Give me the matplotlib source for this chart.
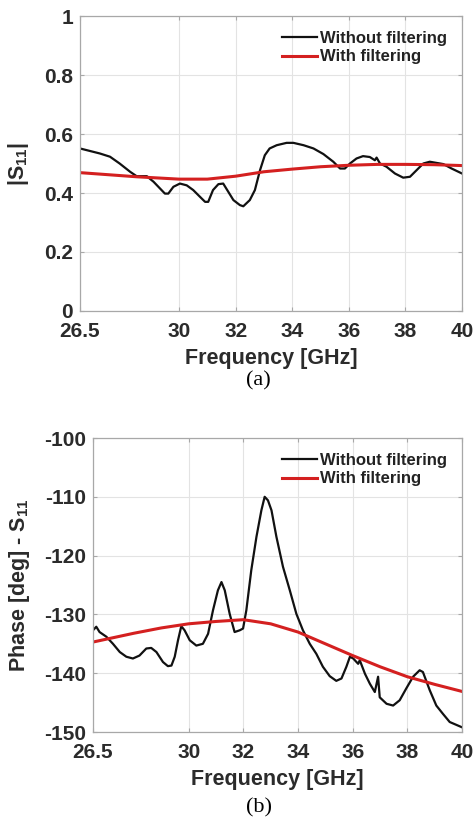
import matplotlib
matplotlib.use('Agg')
import matplotlib.pyplot as plt
import numpy as np

# データ定義 (a) |S11|
freq_a_raw = [26.5, 27.2, 27.56, 27.9, 28.27, 28.5, 28.86, 29.1, 29.33, 29.5, 29.62, 29.8,
              30.03, 30.27, 30.5, 30.74, 30.92, 31.03, 31.2, 31.39, 31.56, 31.74, 31.92,
              32.15, 32.27, 32.5, 32.68, 32.86, 33.03, 33.2, 33.45, 33.8, 34.04, 34.4,
              34.75, 35.1, 35.45, 35.69, 35.86, 36.04, 36.27, 36.5, 36.74, 36.92, 36.98,
              37.1, 37.33, 37.63, 37.92, 38.16, 38.39, 38.63, 38.86, 39.1, 39.34, 39.63, 40.0]
s11_raw = [0.551, 0.534, 0.523, 0.50, 0.472, 0.457, 0.457, 0.438, 0.415, 0.398, 0.398, 0.421,
           0.432, 0.426, 0.41, 0.387, 0.37, 0.37, 0.41, 0.43, 0.432, 0.404, 0.376,
           0.359, 0.355, 0.376, 0.41, 0.477, 0.528, 0.551, 0.562, 0.57, 0.57, 0.562,
           0.551, 0.532, 0.506, 0.483, 0.483, 0.50, 0.517, 0.525, 0.522, 0.511, 0.52,
           0.50, 0.489, 0.466, 0.452, 0.455, 0.477, 0.50, 0.506, 0.502, 0.498, 0.483, 0.466]

freq_a_filt = [26.5, 28.5, 30, 31, 32, 33, 34, 35, 36, 37, 38, 39, 40]
s11_filt = [0.469, 0.455, 0.447, 0.447, 0.457, 0.472, 0.481, 0.489, 0.494, 0.497, 0.497, 0.496, 0.493]

# データ定義 (b) Phase
freq_b_raw = [26.5, 26.62, 26.74, 26.99, 27.23, 27.48, 27.72, 27.96, 28.2, 28.45, 28.63, 28.82,
              29.06, 29.24, 29.37, 29.49, 29.61, 29.73, 29.85, 30.04, 30.28, 30.52, 30.71,
              30.89, 31.07, 31.2, 31.32, 31.5, 31.68, 31.87, 31.99, 32.11, 32.29, 32.48,
              32.66, 32.78, 32.9, 33.03, 33.21, 33.45, 33.7, 33.94, 34.18, 34.43, 34.67,
              34.91, 35.16, 35.4, 35.59, 35.77, 35.9, 36.02, 36.2, 36.26, 36.45, 36.63,
              36.81, 36.93, 36.99, 37.24, 37.48, 37.72, 37.96, 38.21, 38.45, 38.57, 38.82,
              39.06, 39.3, 39.55, 40.0]
phase_raw = [-132.7, -132.1, -133.0, -133.8, -135.0, -136.4, -137.2, -137.5, -137.0, -135.8, -135.7, -136.4,
             -138.1, -138.8, -138.7, -137.2, -134.4, -132.0, -132.7, -134.4, -135.3, -135.0, -133.3,
             -129.3, -125.9, -124.5, -125.9, -129.9, -133.0, -132.7, -132.4, -129.3, -122.5, -116.8,
             -112.3, -110.0, -110.6, -112.3, -116.8, -121.9, -125.9, -129.9, -132.7, -135.0, -136.7,
             -138.9, -140.5, -141.3, -140.9, -138.9, -137.2, -137.5, -138.4, -137.8, -140.1, -141.8,
             -143.2, -140.6, -144.1, -145.2, -145.5, -144.6, -142.6, -140.6, -139.5, -139.8, -142.9,
             -145.5, -146.9, -148.3, -149.2]

freq_b_filt = [26.5, 28, 29, 30, 31, 32, 33, 34, 35, 36, 37, 38, 39, 40]
phase_filt = [-134.7, -133.2, -132.3, -131.6, -131.2, -130.9, -131.6, -133.0, -135.0, -137.0,
              -138.9, -140.6, -141.9, -143.1]

xticks = [26.5, 30, 32, 34, 36, 38, 40]
xticklabels = ['26.5', '30', '32', '34', '36', '38', '40']
labels = ['Without filtering', 'With filtering']

# スタイル
plt.rcParams['font.family'] = ['Liberation Sans', 'DejaVu Sans']
plt.rcParams['mathtext.fontset'] = 'custom'
plt.rcParams['mathtext.rm'] = 'Liberation Sans:bold'
plt.rcParams['mathtext.it'] = 'Liberation Sans:bold'
plt.rcParams['mathtext.bf'] = 'Liberation Sans:bold'

fig = plt.figure(figsize=(4.74, 8.21), dpi=100)
ax1 = fig.add_axes([0.1688, 0.6212, 0.806, 0.3593])
ax2 = fig.add_axes([0.1962, 0.1084, 0.7785, 0.3581])


def style_axes(ax):
    ax.set_xlim(26.5, 40)
    ax.set_xticks(xticks)
    ax.set_xticklabels(xticklabels)
    ax.grid(True, color='#e3e3e3', linewidth=0.8)
    ax.set_axisbelow(True)
    for sp in ax.spines.values():
        sp.set_color('#a8a8a8')
        sp.set_linewidth(0.9)
    ax.tick_params(direction='in', length=3, width=0.8, color='#a8a8a8',
                   top=True, right=True, labelsize=15, labelcolor='#2b2b2b')
    ax.tick_params(axis='x', pad=8)
    ax.tick_params(axis='y', pad=5)
    for lab in ax.get_xticklabels() + ax.get_yticklabels():
        lab.set_fontweight('bold')
    ax.set_xlabel('Frequency [GHz]', fontsize=15.5, fontweight='bold', color='#2b2b2b', labelpad=5)
    leg = ax.legend(loc='upper right', frameon=False, handlelength=2.1, handletextpad=0.2,
                    labelspacing=0.2, borderaxespad=0.5,
                    prop={'weight': 'bold', 'size': 12})
    for t in leg.get_texts():
        t.set_color('#222222')


# (a)
ax1.plot(freq_a_raw, s11_raw, color='#111111', linewidth=1.6, label=labels[0])
ax1.plot(freq_a_filt, s11_filt, color='#d42020', linewidth=2.2, label=labels[1])
ax1.set_ylim(0, 1)
ax1.set_yticks([0, 0.2, 0.4, 0.6, 0.8, 1])
ax1.set_yticklabels(['0', '0.2', '0.4', '0.6', '0.8', '1'])
style_axes(ax1)
ax1.set_ylabel(r'|S$_{11}$|', fontsize=15.5, fontweight='bold', color='#2b2b2b')
ax1.yaxis.set_label_coords(-0.128, 0.5)

# (b)
ax2.plot(freq_b_raw, phase_raw, color='#111111', linewidth=1.6, label=labels[0])
ax2.plot(freq_b_filt, phase_filt, color='#d42020', linewidth=2.2, label=labels[1])
ax2.set_ylim(-150, -100)
ax2.set_yticks([-150, -140, -130, -120, -110, -100])
ax2.set_yticklabels(['-150', '-140', '-130', '-120', '-110', '-100'])
style_axes(ax2)
ax2.set_ylabel(r'Phase [deg] - S$_{11}$', fontsize=15.5, fontweight='bold', color='#2b2b2b')
ax2.yaxis.set_label_coords(-0.165, 0.5)

# キャプション
fig.text(0.546, 1 - 381 / 821, '(a)', ha='center', va='center', fontsize=16,
         family='Liberation Serif')
fig.text(0.546, 1 - 808 / 821, '(b)', ha='center', va='center', fontsize=16,
         family='Liberation Serif')

fig.savefig('out.png', dpi=100, facecolor='white')
